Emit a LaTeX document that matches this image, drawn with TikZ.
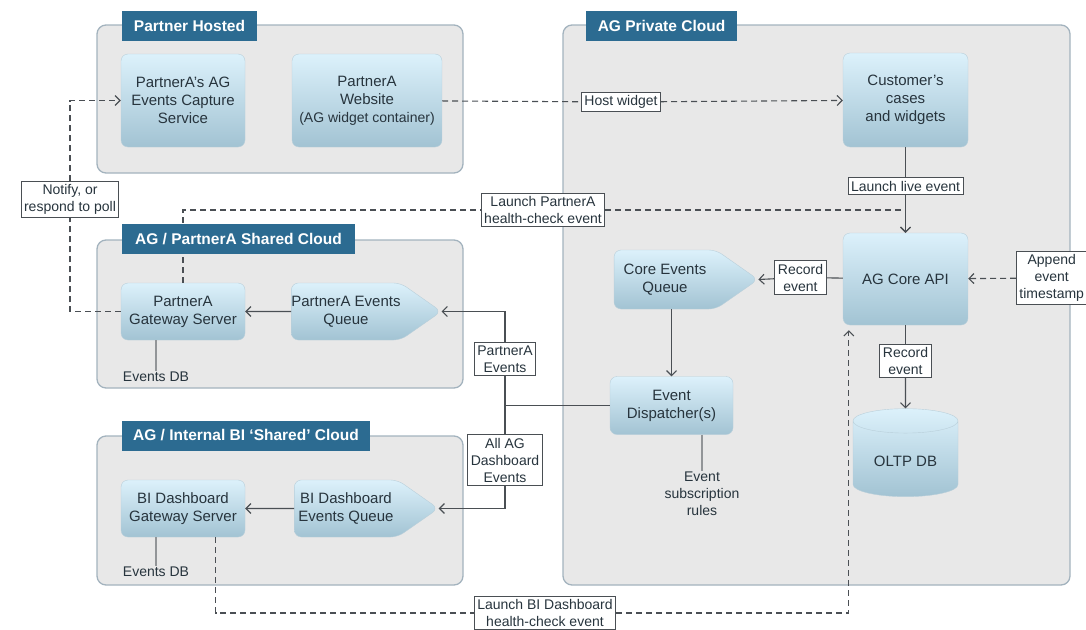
\documentclass[tikz,border=0pt]{standalone}
\usepackage{fontspec}
\setmainfont{Liberation Sans}
\usetikzlibrary{shapes.symbols,shapes.geometric,arrows.meta}
\definecolor{tabblue}{HTML}{2C6B91}
\definecolor{cloudgray}{HTML}{E8E8E8}
\definecolor{cloudedge}{HTML}{A3B3BE}
\definecolor{boxtop}{HTML}{DCF1FB}
\definecolor{boxbot}{HTML}{A2C3D3}
\definecolor{boxedge}{HTML}{B9CFDA}
\definecolor{inktext}{HTML}{27343D}
\definecolor{wire}{HTML}{4A4F54}
\begin{document}
\begin{tikzpicture}[x=1pt,y=-1pt,>={Straight Barb[length=5pt,width=10pt]},
    cloud/.style={draw=cloudedge,fill=cloudgray,line width=1.3pt,rounded corners=9pt},
    tab/.style={fill=tabblue,text=white,font=\fontsize{15.5}{18}\selectfont\bfseries,minimum height=30pt},
    box/.style={draw=boxedge,rounded corners=7pt,top color=boxtop,bottom color=boxbot,text=inktext,
      align=center,font=\fontsize{15}{18}\selectfont},
    queue/.style={box,signal,signal to=east,signal pointer angle=70,inner sep=0pt},
    tag/.style={draw=wire,fill=white,line width=0.9pt,text=inktext,align=center,inner sep=3pt,
      font=\fontsize{14}{17}\selectfont},
    note/.style={text=inktext,align=center,font=\fontsize{14}{17}\selectfont,inner sep=1pt},
    link/.style={draw=wire,line width=1.1pt},
    dlink/.style={link,dash pattern=on 6pt off 4pt}]
  \useasboundingbox (0,0) rectangle (1086,629);
  % clouds
  \draw[cloud] (97,25) rectangle (463,173);
  \draw[cloud] (97,240) rectangle (463,388);
  \draw[cloud] (97,436) rectangle (463,585);
  \draw[cloud] (563,25) rectangle (1070,585);

  % partner hosted
  \node[box,minimum width=124pt,minimum height=93pt] (capture) at (183,100.5) {PartnerA's AG\\Events Capture\\Service};
  \node[box,minimum width=150pt,minimum height=93pt] (website) at (367,100.5) {PartnerA\\Website\\{\fontsize{14}{17}\selectfont(AG widget container)}};

  % AG private cloud
  \node[box,minimum width=125pt,minimum height=94pt] (customer) at (905.5,100) {Customer's\\cases\\and widgets};
  \node[box,minimum width=125pt,minimum height=92pt] (api) at (905.5,279) {AG Core API};
  \node[queue,minimum width=144pt,minimum height=59pt] (corequeue) at (665,279.5) {Core Events\\Queue};
  \node[box,minimum width=123pt,minimum height=58pt] (dispatch) at (671.5,405.5) {Event\\Dispatcher(s)};
  \node[note] (rules) at (702,494) {Event\\subscription\\rules};
  \node[box,cylinder,shape border rotate=90,aspect=0.35,minimum width=105pt,minimum height=88pt,
    rounded corners=0pt] (oltp) at (905.5,461) {OLTP DB};

  % shared clouds
  \node[box,minimum width=124pt,minimum height=57pt] (gatea) at (183,311.5) {PartnerA\\Gateway Server};
  \node[queue,minimum width=144pt,minimum height=57pt] (queuea) at (346,311.5) {PartnerA Events\\Queue};
  \node[note] (dba) at (156,377) {Events DB};
  \node[box,minimum width=124pt,minimum height=57pt] (gateb) at (183,508.5) {BI Dashboard\\Gateway Server};
  \node[queue,minimum width=144pt,minimum height=57pt] (queueb) at (346,508.5) {BI Dashboard\\Events Queue};
  \node[note] (dbb) at (156,572) {Events DB};

  % labels on the wires
  \node[tag] (hostlbl) at (621,102) {Host widget};
  \node[tag] (livelbl) at (905.5,186) {Launch live event};
  \node[tag] (recordone) at (800.5,277.5) {Record\\event};
  \node[tag] (recordtwo) at (905.5,361) {Record\\event};
  \node[tag,anchor=west] (appendlbl) at (1016,278) {Append\\event\\timestamp};
  \node[tag] (notify) at (70,199.5) {Notify, or\\respond to poll};
  \node[tag] (launcha) at (543,210) {Launch PartnerA\\health-check event};
  \node[tag] (partnerev) at (505,359) {PartnerA\\Events};
  \node[tag] (allag) at (505,460) {All AG\\Dashboard\\Events};
  \node[tag] (launchb) at (545,613) {Launch BI Dashboard\\health-check event};

  % wires
  \draw[dlink] (website) -- (hostlbl);
  \draw[dlink,->] (hostlbl) -- (customer);
  \draw[link] (customer) -- (livelbl);
  \draw[link,->] (livelbl) -- (api);
  \draw[dlink] (gatea.north) |- (launcha);
  \draw[dlink,->] (launcha) -| (api.north);
  \draw[dlink] (gatea.west) -| (notify);
  \draw[dlink,->] (notify) |- (capture);
  \draw[link] (api) -- (recordone);
  \draw[link,->] (recordone) -- (corequeue.east);
  \draw[dlink,->] (appendlbl) -- (api);
  \draw[link,->] (corequeue.south -| dispatch.north) -- (dispatch);
  \draw[link,draw=wire!60] (dispatch.south -| rules.north) -- (rules);
  \draw[link] (api) -- (recordtwo);
  \draw[link,->] (recordtwo) -- (oltp.north);
  \coordinate (split) at (505,405.5);
  \draw[link] (dispatch) -- (split) -- (partnerev);
  \draw[link,->] (partnerev) |- (queuea.east);
  \draw[link] (split) -- (allag);
  \draw[link,->] (allag) |- (queueb.east);
  \draw[link,->] (queuea) -- (gatea);
  \draw[link,->] (queueb) -- (gateb);
  \draw[link,draw=wire!60] (gatea.south -| dba.north) -- (dba);
  \draw[link,draw=wire!60] (gateb.south -| dbb.north) -- (dbb);
  \draw[dlink] ([xshift=95pt]gateb.south west) |- (launchb);
  \draw[dlink,->] (launchb) -| ([xshift=6pt,yshift=-5pt]api.south west);

  % cloud tabs
  \node[tab,minimum width=135pt] (hosttab) at (189.5,26) {Partner Hosted};
  \node[tab,minimum width=151pt] (privtab) at (661.5,25.5) {AG Private Cloud};
  \node[tab,minimum width=233pt] (sharedtab) at (238.5,239) {AG / PartnerA Shared Cloud};
  \node[tab,minimum width=248pt] (bitab) at (246,435.5) {AG / Internal BI `Shared' Cloud};
\end{tikzpicture}
\end{document}
